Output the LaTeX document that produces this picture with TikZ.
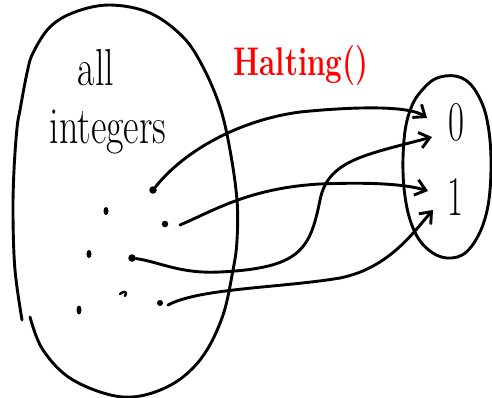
\documentclass[tikz,border=0pt]{standalone}
\usepackage{graphicx}
\usetikzlibrary{arrows.meta,shapes.geometric}
\tikzset{
  pen/.style={line width=2.9pt, line cap=round, line join=round},
  arr/.style={pen, -{Straight Barb[length=10pt,width=16pt,line width=2.9pt]}},
  dot/.style={circle, fill, inner sep=0pt, minimum size=7.5pt},
  smalldot/.style={ellipse, fill, inner sep=0pt, minimum width=5pt, minimum height=8pt},
  lbl/.style={font=\fontsize{52}{52}\selectfont},
}
\begin{document}
\begin{tikzpicture}[x=1pt,y=-1pt]
\useasboundingbox (0,0) rectangle (492,398);
% big set
\draw[pen] plot[smooth, tension=0.6] coordinates {(22,320) (15,270) (13,215) (14,170) (17,128) (20,110) (27,73) (33,53) (50,27) (75,12) (110,5) (150,13) (183,37) (203,67) (220,107) (230,150) (237,200) (237,240) (233,270) (222,318) (200,360) (167,387) (123,397) (73,380) (43,350) (30,317)};
% small set
\draw[pen] plot[smooth cycle, tension=0.65] coordinates {(440,77) (462,78) (478,95) (488,125) (491,170) (486,215) (471,247) (452,258) (430,251) (413,228) (404,188) (404,140) (411,108) (424,88)};
% labels
\node[lbl, anchor=center] (all) at (96,68) {\scalebox{0.73}[1]{all}};
\node[lbl, anchor=center] (ints) at (108,132) {\scalebox{0.73}[1]{integers}};
\node[font=\fontsize{40}{40}\selectfont\bfseries, text=red] (fn) at (301,66) {\scalebox{0.74}[1]{Halting()}};
\node[font=\fontsize{56}{56}\selectfont] (zero) at (456,122) {\scalebox{0.62}[1]{0}};
\node[font=\fontsize{56}{56}\selectfont] (one) at (455,197) {\scalebox{0.62}[1]{1}};
% dots
\node[dot] (d1) at (153,190) {};
\node[smalldot] (d2) at (106,211) {};
\node[dot, minimum size=6.5pt] (d3) at (165,224) {};
\node[smalldot] (d4) at (89,254) {};
\node[dot] (d5) at (132,258) {};
\node[dot, minimum size=6pt] (d8) at (160,303) {};
\node[smalldot, minimum height=9pt] (d7) at (79,310) {};
\draw[pen, line width=2.4pt] (120,294) .. controls (124,290) and (128,292) .. (125,296);
\coordinate (d6) at (124,294);
% tips
\coordinate (t1) at (427,118);
\coordinate (t2) at (432,137);
\coordinate (t3) at (428,191);
\coordinate (t4) at (433,210);
% arrows
\draw[arr] (d1) .. controls (185,150) and (240,120) .. (300,112) .. controls (360,106) and (410,106) .. (t1);
\draw[arr] ([xshift=15pt,yshift=-1pt]d3.center) .. controls (215,210) and (250,188) .. (320,184) .. controls (370,182) and (405,184) .. (t3);
\draw[arr] (d5) .. controls (160,262) and (180,274) .. (220,272) .. controls (300,268) and (310,250) .. (320,200) .. controls (328,160) and (365,155) .. (t2);
\draw[arr] ([xshift=8pt,yshift=-2pt]d8.center) .. controls (200,288) and (280,288) .. (340,278) .. controls (390,268) and (415,230) .. (t4);
\end{tikzpicture}
\end{document}
